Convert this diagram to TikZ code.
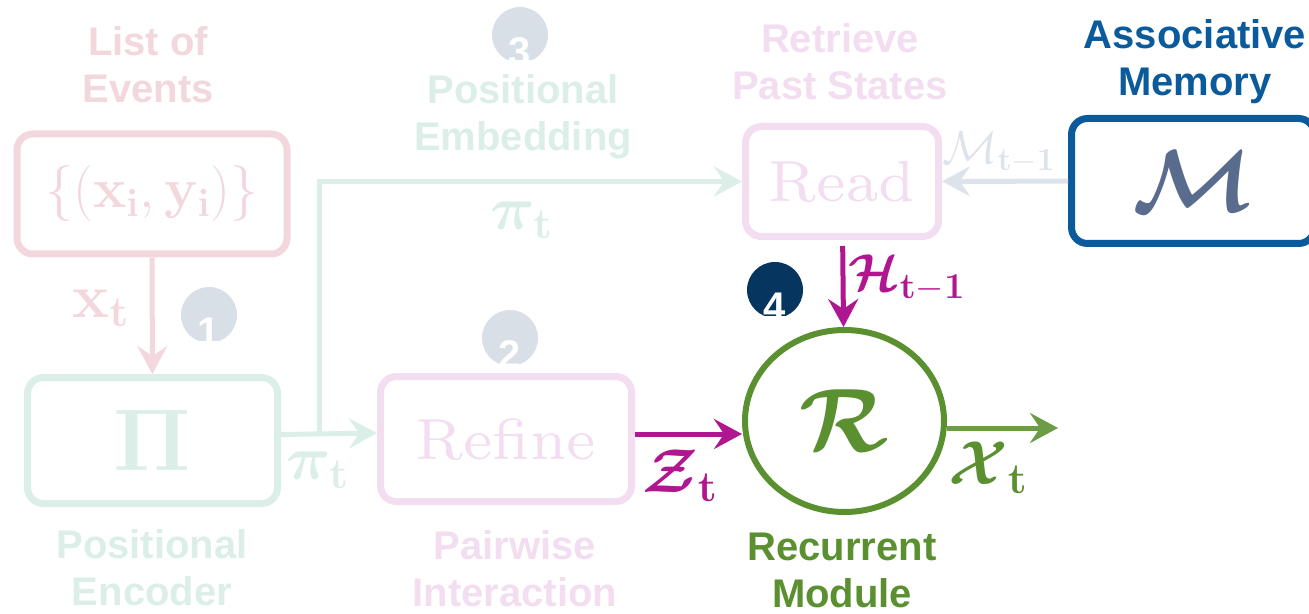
\RequirePackage{fix-cm}
\documentclass[tikz,border=0pt]{standalone}
\usepackage[no-math]{fontspec}
\setsansfont{Liberation Sans}
\usepackage{amsmath}
\usepackage{bm}
\usepackage{xcolor}
\usetikzlibrary{arrows.meta, positioning, shapes.geometric}

\definecolor{evpink}{HTML}{F2D7DD}
\definecolor{pegreen}{HTML}{DCEEE8}
\definecolor{rfpink}{HTML}{F3DDF0}
\definecolor{stepgray}{HTML}{D8DFE6}
\definecolor{stepnavy}{HTML}{06365F}
\definecolor{zmag}{HTML}{B0168F}
\definecolor{rgreen}{HTML}{5B9031}
\definecolor{xgreen}{HTML}{6A9D46}
\definecolor{memblue}{HTML}{0B5A9B}
\definecolor{mletter}{HTML}{5A6C8E}
\definecolor{mpale}{HTML}{DDE3EB}

% wide serif for the block names
\font\blockrm=cmr7 at 29pt

\tikzset{%
	block/.style={
		draw=#1,
		text=#1,
		rounded corners=8pt,
		line width=3.5pt,
		inner sep=0pt
	},
	heading/.style={
		font=\sffamily\bfseries\fontsize{20}{23.5}\selectfont,
		align=center
	},
	lab/.style={
		font=\fontsize{31}{33}\selectfont
	},
	flow/.style={
		-{Stealth[length=14pt,width=15pt,inset=5pt]},
		line width=2.5pt
	},
	stepmark/.style={
		circle,
		inner sep=0pt,
		minimum size=28pt
	},
	stepdigit/.style={
		font=\sffamily\bfseries\fontsize{20}{20}\selectfont,
		text=white
	},
}

\begin{document}
\begin{tikzpicture}[x=0.5pt, y=-0.5pt]
	\useasboundingbox (0,0) rectangle (1309,614);

	% Draw the boxes
	\node[block=evpink, minimum width=135pt, minimum height=60pt,
		font=\fontsize{28}{30}\selectfont] (events) at (152,194)
		{$\{(\mathbf{x}_{\mathbf{i}}, \mathbf{y}_{\mathbf{i}})\}$};
	\node[block=pegreen, minimum width=125pt, minimum height=63pt,
		font=\fontsize{44}{48}\selectfont] (pi) at (152.5,440.5) {$\bm{\Pi}$};
	\node[block=rfpink, minimum width=125.5pt, minimum height=62.5pt] (refine)
		at (506,439) {\blockrm Refine};
	\node[block=rfpink, minimum width=96.5pt, minimum height=55pt] (read)
		at (842,181.5) {\blockrm Read};
	\node[block=memblue, text=mletter, minimum width=121.5pt, minimum height=62.5pt,
		font=\fontsize{44}{48}\selectfont] (mem) at (1193,181) {$\bm{\mathcal{M}}$};

	% Draw the recurrent module
	\node[ellipse, draw=rgreen, text=rgreen, line width=3pt, inner sep=0pt,
		minimum width=99.5pt, minimum height=91pt,
		font=\fontsize{45}{48}\selectfont] (rec) at (844.5,421) {$\bm{\mathcal{R}}$};

	% Headings
	\node[heading, text=evpink] (hevents) at (148,65) {List of\\Events};
	\node[heading, text=pegreen] (hembed) at (523,117) {Positional\\Embedding};
	\node[heading, text=rfpink] (hread) at (840,62) {Retrieve\\Past States};
	\node[heading, text=memblue] (hmem) at (1195,62) {Associative\\Memory};
	\node[heading, text=pegreen] (hpi) at (152,568) {Positional\\Encoder};
	\node[heading, text=rfpink] (hrefine) at (515,569) {Pairwise\\Interaction};
	\node[heading, text=rgreen] (hrec) at (842,570) {Recurrent\\Module};

	% Draw the arrows
	\coordinate (branch) at (319,434.5);
	\coordinate (out) at (1058,428);
	\draw[flow, evpink] (events) -- (pi);
	\draw[flow, pegreen] ([yshift=3pt]pi.east) -- ([yshift=3pt]refine.west);
	\draw[flow, pegreen] (branch) |- (read.west);
	\draw[flow, mpale] (mem) -- (read);
	\draw[flow, zmag, shorten <=3pt] (read) -- (rec);
	\draw[flow, zmag] ([yshift=2.5pt]refine.east) -- ([yshift=2.5pt]refine.east -| rec.west);
	\draw[flow, xgreen] ([yshift=-3.5pt]rec.east) -- (out);

	% Arrow labels
	\node[lab, text=evpink] (lx) at (101,308) {$\mathbf{x}_{\mathbf{t}}$};
	\node[lab, text=pegreen] (lpi) at (318,470) {$\bm{\pi}_{\mathbf{t}}$};
	\node[lab, text=pegreen] (lpitop) at (522,220) {$\bm{\pi}_{\mathbf{t}}$};
	\node[lab, text=zmag] (lz) at (680,476) {$\bm{\mathcal{Z}}_{\mathbf{t}}$};
	\node[lab, text=rgreen] (lxout) at (988,468) {$\bm{\mathcal{X}}_{\mathbf{t}}$};
	\node[lab, text=zmag, font=\fontsize{26}{28}\selectfont] (lh) at (907,278)
		{$\bm{\mathcal{H}}_{\mathbf{t-1}}$};
	\node[lab, text=mpale, font=\fontsize{23}{25}\selectfont] (lm) at (999,153)
		{$\mathcal{M}_{\mathbf{t-1}}$};

	% Step markers
	\foreach \n/\cx/\cy/\col in {1/209/315/stepgray, 2/510/338/stepgray,
		3/520/35/stepgray, 4/775/290/stepnavy} {
		\begin{scope}
			\clip (\cx-30,\cy-30) rectangle (\cx+30,\cy+25);
			\node[stepmark, fill=\col] (step\n) at (\cx,\cy) {};
			\node[stepdigit] at (\cx,\cy+17) {\n};
		\end{scope}
	}
\end{tikzpicture}
\end{document}
